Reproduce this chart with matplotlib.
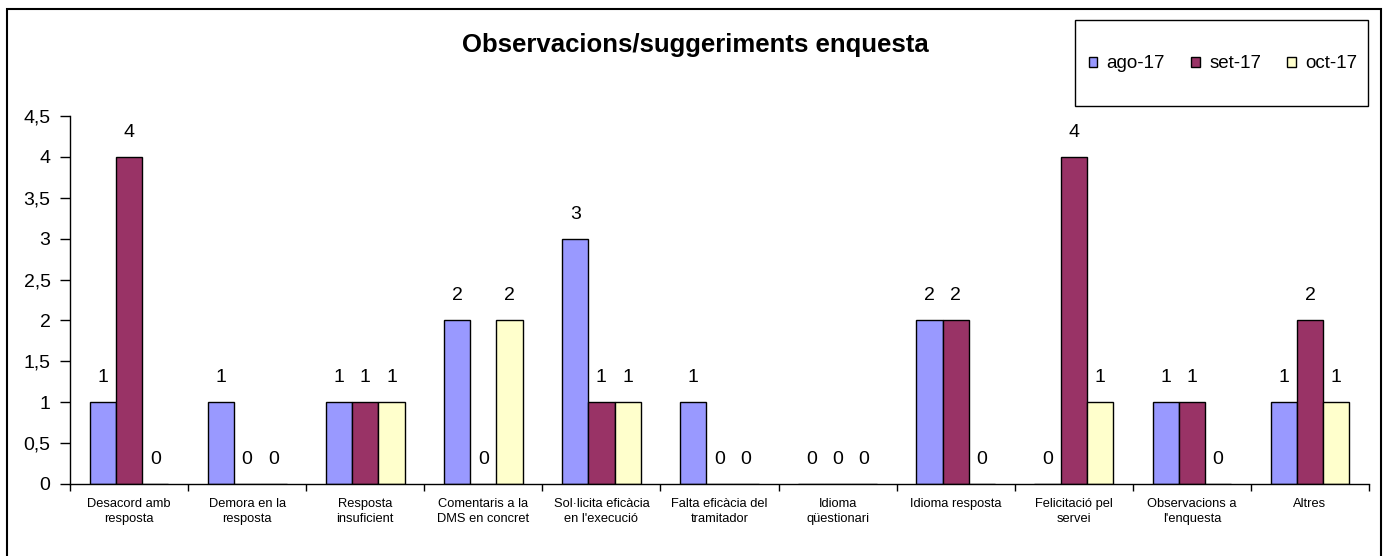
import numpy as np
import matplotlib
matplotlib.use("Agg")
import matplotlib.pyplot as plt
import matplotlib.patches as patches

plt.rcParams['font.family'] = ['Liberation Sans', 'DejaVu Sans']

# Dades del gràfic
categories = [
    "Desacord amb\nresposta",
    "Demora en la\nresposta",
    "Resposta\ninsuficient",
    "Comentaris a la\nDMS en concret",
    "Sol·licita eficàcia\nen l'execució",
    "Falta eficàcia del\ntramitador",
    "Idioma\nqüestionari",
    "Idioma resposta",
    "Felicitació pel\nservei",
    "Observacions a\nl'enquesta",
    "Altres",
]
series_names = ["ago-17", "set-17", "oct-17"]
ago_17 = [1, 1, 1, 2, 3, 1, 0, 2, 0, 1, 1]
set_17 = [4, 0, 1, 0, 1, 0, 0, 2, 4, 1, 2]
oct_17 = [0, 0, 1, 2, 1, 0, 0, 0, 1, 0, 1]
colors = ["#9999FF", "#993366", "#FFFFCC"]
y_ticks = [0, 0.5, 1, 1.5, 2, 2.5, 3, 3.5, 4, 4.5]

W, H = 1385, 556
fig = plt.figure(figsize=(W / 100, H / 100), dpi=100)

# Marc exterior del gràfic (la vora inferior queda fora de la imatge)
fig.add_artist(patches.Rectangle((7 / W, -0.05), (1381 - 7) / W, 1.05 - 9 / H,
                                 transform=fig.transFigure, fill=False,
                                 edgecolor='black', linewidth=1.5))

ax = fig.add_axes([70 / W, 72 / H, (1369 - 70) / W, (484 - 116) / H])

x = np.arange(len(categories))
bw = 1 / 4.5
series = [ago_17, set_17, oct_17]
bars = []
for i, (vals, col) in enumerate(zip(series, colors)):
    b = ax.bar(x + (i - 1) * bw, vals, width=bw, color=col, edgecolor='black',
               linewidth=1.0, label=series_names[i])
    bars.append(b)
    for xi, v in zip(x + (i - 1) * bw, vals):
        ax.annotate(str(v), (xi, v), xytext=(0, 11.5), textcoords='offset points',
                    ha='center', va='bottom', fontsize=14)

ax.set_xlim(-0.5, len(categories) - 0.5)
ax.set_ylim(0, 4.5)
ax.set_yticks(y_ticks)
ax.set_yticklabels([f"{t:g}".replace('.', ',') for t in y_ticks], fontsize=14)
ax.tick_params(axis='y', direction='out', length=7, width=1, pad=7)

ax.set_xticks(x)
ax.set_xticklabels(categories, fontsize=9.3, linespacing=1.4, va='top')
ax.set_xticks(np.arange(len(categories) + 1) - 0.5, minor=True)
ax.tick_params(axis='x', which='major', length=0, pad=10)
ax.tick_params(axis='x', which='minor', direction='out', length=5, width=1)

for s in ['top', 'right']:
    ax.spines[s].set_visible(False)
for s in ['left', 'bottom']:
    ax.spines[s].set_linewidth(1)

fig.text(695 / W, 1 - 45 / H, "Observacions/suggeriments enquesta",
         ha='center', va='center', fontsize=18.5, fontweight='bold')

# Llegenda amb marc propi
lx0, ly0, lx1, ly1 = 1075, 20, 1368, 106
fig.add_artist(patches.Rectangle((lx0 / W, 1 - ly1 / H), (lx1 - lx0) / W, (ly1 - ly0) / H,
                                 transform=fig.transFigure, fill=False,
                                 edgecolor='black', linewidth=1))
fig.legend(handles=bars, labels=series_names, loc='center',
           bbox_to_anchor=((lx0 + 3 + lx1) / 2 / W, 1 - (ly0 + 2 + ly1) / 2 / H),
           ncol=3, frameon=False, fontsize=13.5, handlelength=0.45, handleheight=0.45,
           handletextpad=0.5, columnspacing=1.4)

fig.savefig("out.png", dpi=100)
